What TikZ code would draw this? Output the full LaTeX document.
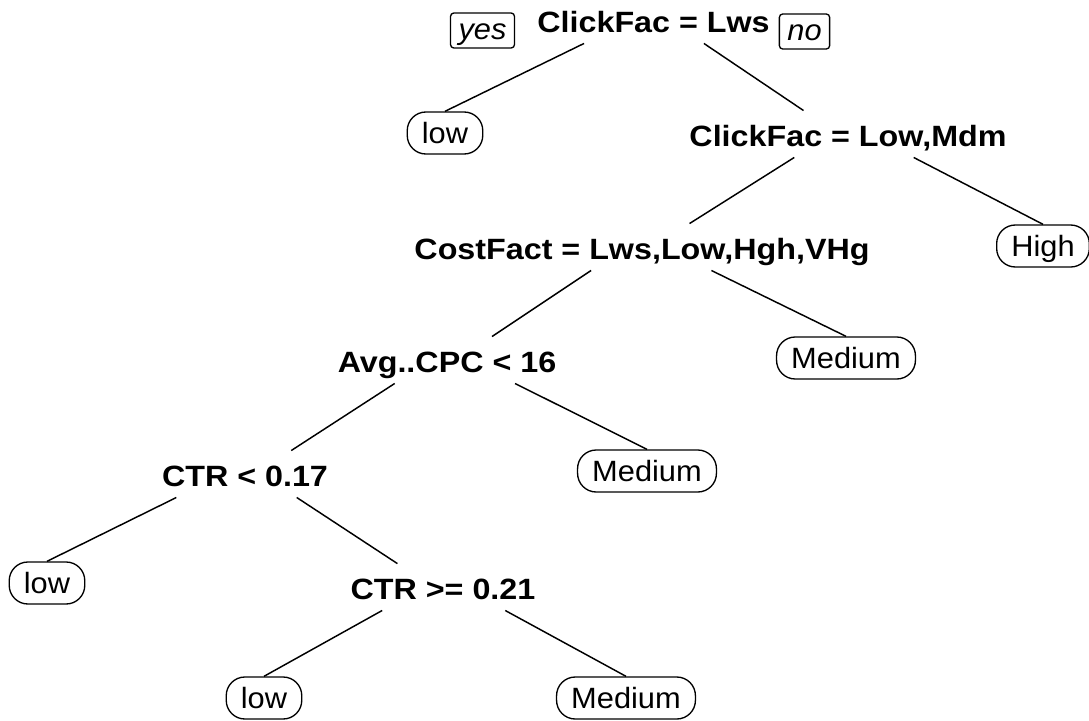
\documentclass[tikz,border=0pt]{standalone}
\usepackage{fontspec}
\setmainfont{Liberation Sans}[FakeStretch=1.05,BoldFeatures={FakeStretch=1.10}]
\usetikzlibrary{calc}
\newcommand\treefont{\fontsize{22pt}{26pt}\selectfont}

\tikzset{
  split/.style={font=\treefont\bfseries, inner xsep=0pt, inner ysep=1.5pt, text height=15.8pt, text depth=6.25pt},
  leaf/.style={draw, line width=1pt, rounded corners=14pt, font=\treefont, inner xsep=11pt, inner ysep=5.5pt, text height=18pt, text depth=2.5pt},
  yesno/.style={draw, line width=1pt, rounded corners=2.5pt, font=\treefont\itshape, inner xsep=6pt, inner ysep=2.5pt, text height=17pt, text depth=4.25pt},
  branch/.style={line width=1.1pt}
}

% branch to a split: aimed at its centre, stops above the label
\newcommand\splitedge[2]{%
  \coordinate (#2L) at ($(#2.north west)+(0,13)$);
  \coordinate (#2R) at ($(#2.north east)+(0,13)$);
  \draw[branch] (intersection of #1.north--#2.center and #1.south west--#1.south east)
    -- (intersection of #1.north--#2.center and #2L--#2R);}
% branch to a leaf: ends on top of the box
\newcommand\leafedge[2]{%
  \draw[branch] (intersection of #1.north--#2.north and #1.south west--#1.south east) -- (#2.north);}

\begin{document}
\begin{tikzpicture}[x=0.75pt,y=0.75pt]
\useasboundingbox (0,0) rectangle (1089,-721);

% splits
\node[split] (root) at (653.5,-26.5) {ClickFac = Lws};
\node[split] (clickLM) at (848,-140.5) {ClickFac = Low,Mdm};
\node[split] (cost) at (642,-253.5) {CostFact = Lws,Low,Hgh,VHg};
\node[split] (avgcpc) at (447,-366.5) {Avg..CPC < 16};
\node[split] (ctrA) at (245,-480.5) {CTR < 0.17};
\node[split] (ctrB) at (443,-593.5) {CTR >= 0.21};

\node[yesno] (yes) at (482.5,-30.5) {yes};
\node[yesno] (no) at (804.5,-31.5) {no};

% leaves
\node[leaf] (lowA) at (445,-133) {low};
\node[leaf] (high) at (1043,-246) {High};
\node[leaf] (mediumA) at (846,-358) {Medium};
\node[leaf] (mediumB) at (647,-471) {Medium};
\node[leaf] (lowB) at (47,-583) {low};
\node[leaf] (lowC) at (264,-698) {low};
\node[leaf] (mediumC) at (626,-698) {Medium};

\leafedge{root}{lowA}
\splitedge{root}{clickLM}
\splitedge{clickLM}{cost}
\leafedge{clickLM}{high}
\splitedge{cost}{avgcpc}
\leafedge{cost}{mediumA}
\splitedge{avgcpc}{ctrA}
\leafedge{avgcpc}{mediumB}
\leafedge{ctrA}{lowB}
\splitedge{ctrA}{ctrB}
\leafedge{ctrB}{lowC}
\leafedge{ctrB}{mediumC}
\end{tikzpicture}
\end{document}
